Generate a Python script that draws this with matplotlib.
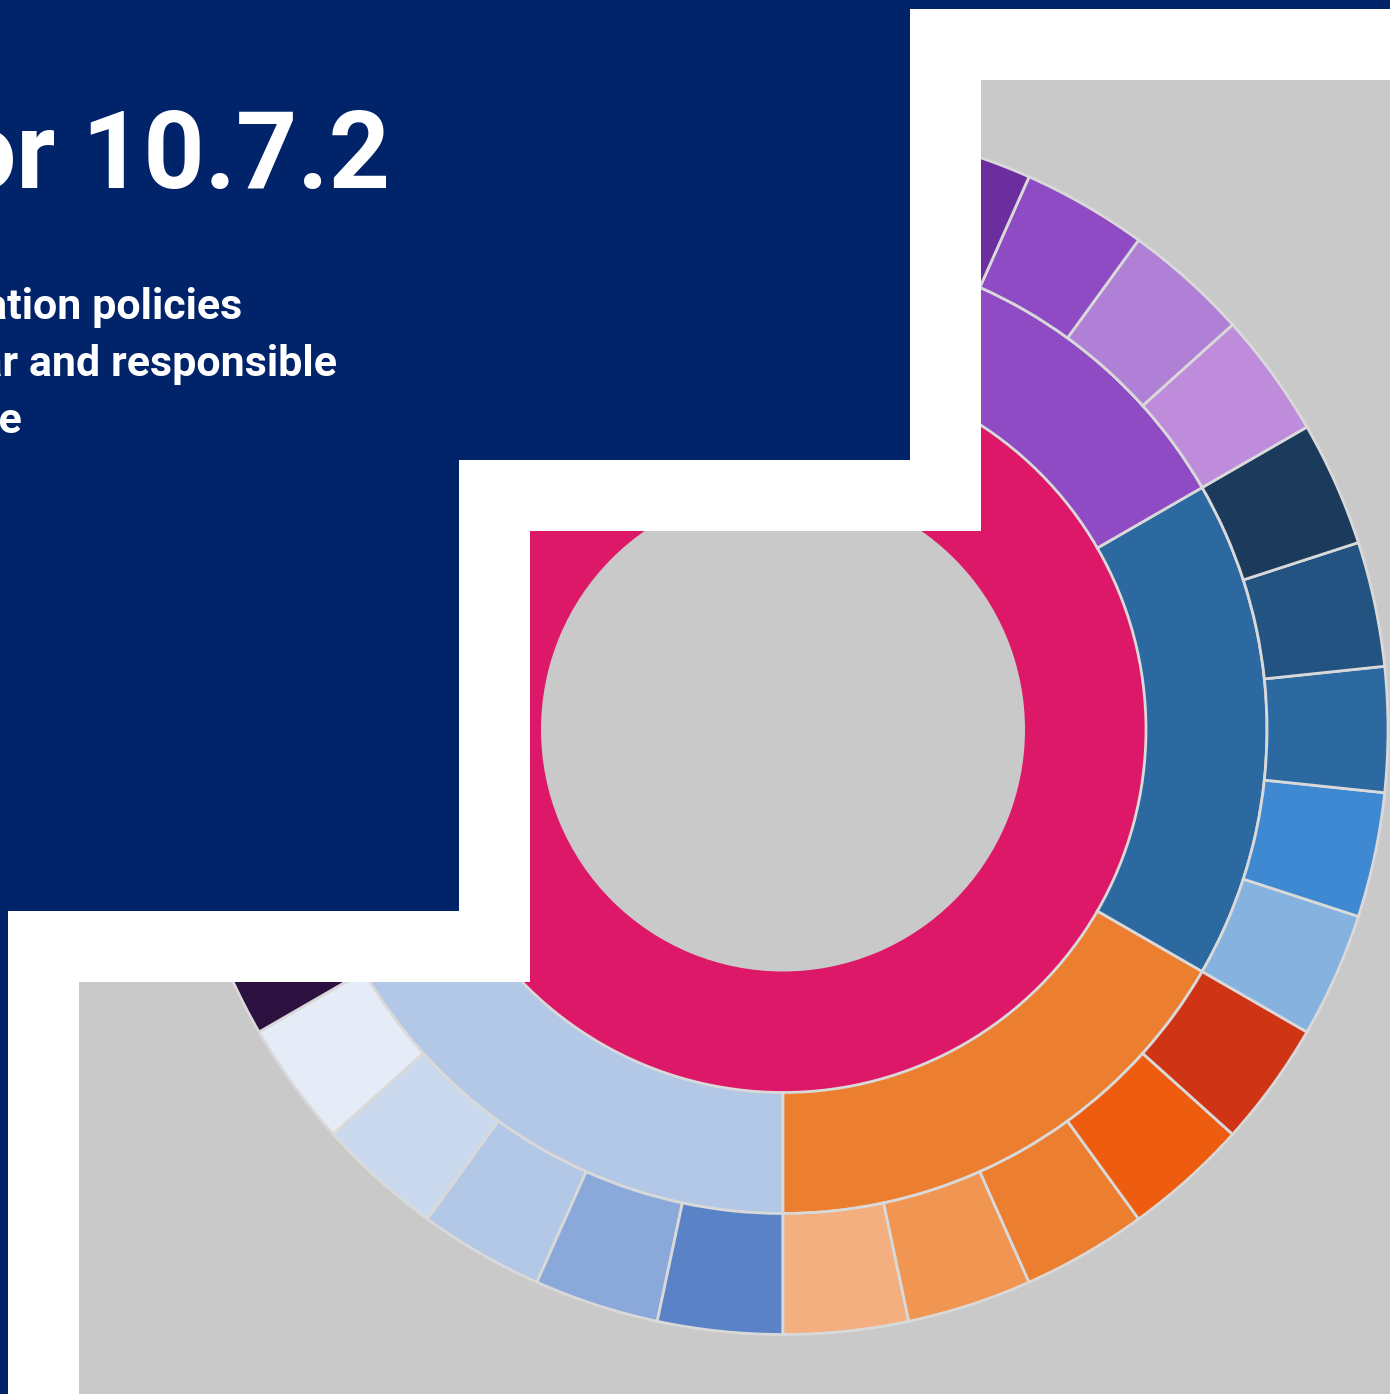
import numpy as np
from matplotlib import pyplot as plt
from matplotlib.patches import Polygon

W, H = 1390, 1394            ### canvas size in pixels (dpi 100)

####################################
### Data: six groups, five parts each, listed counter-clockwise from 210 deg
####################################

lightblue_values = [1, 1, 1, 1, 1]
orange_values = [1, 1, 1, 1, 1]
blue_values = [1, 1, 1, 1, 1]
purple_values = [1, 1, 1, 1, 1]
teal_values = [1, 1, 1, 1, 1]
plum_values = [1, 1, 1, 1, 1]

group_colors = ["#B3C7E6", "#EC7E30", "#2C69A1", "#8E4BC3", "#2FA58E", "#6E4A85"]

lightblue_colors = ["#E5ECF7", "#CAD9EE", "#B3C7E6", "#8AA9DA", "#5A83C7"]
orange_colors = ["#F3AF80", "#F09652", "#EC7E30", "#EE5C10", "#CF3515"]
blue_colors = ["#85B2DE", "#3F88D2", "#2C69A1", "#235481", "#1B3A5C"]
purple_colors = ["#BE8CDB", "#B07FD6", "#8E4BC3", "#6C2E9E", "#4F1F78"]
teal_colors = ["#A8DCD1", "#6CC3B2", "#2FA58E", "#1E7F6C", "#115446"]
plum_colors = ["#C9B3D6", "#9C7BB0", "#6E4A85", "#4A2A5E", "#2C1040"]

core_values = [1]
core_color = "#DE1868"

title = "SDG Indicator 10.7.2"
subtitle_lines = ["Number of countries with migration policies",
                  "to facilitate orderly, safe, regular and responsible",
                  "migration and mobility of people"]

NAVY = "#002369"
GREY = "#C9C9C9"
EDGE = "#D9D9D9"

####################################
### Build the ring lists
####################################

child_groups = [lightblue_values, orange_values, blue_values,
                purple_values, teal_values, plum_values]
color_groups = [lightblue_colors, orange_colors, blue_colors,
                purple_colors, teal_colors, plum_colors]

child_values = [v for grp in child_groups for v in grp]
child_colors = [c for grp in color_groups for c in grp]
group_values = [sum(grp) for grp in child_groups]

######################
### Figure and one axes in pixel units (y up)
#####################

fig = plt.figure(figsize=(W / 100, H / 100), dpi=100, facecolor=GREY)
ax = fig.add_axes([0, 0, 1, 1])
ax.set_facecolor(GREY)


def flip(pts):
    return [(x, H - y) for x, y in pts]


######################
### Sunburst rings
#####################

center = (783, H - 729.5)
ring = 121

core, _ = ax.pie(core_values, colors=[core_color], radius=363, center=center,
                 startangle=210, wedgeprops=dict(width=ring, linewidth=0))
mid, _ = ax.pie(group_values, colors=group_colors, radius=484, center=center,
                startangle=210,
                wedgeprops=dict(width=ring, edgecolor=EDGE, linewidth=2.0))
outer, _ = ax.pie(child_values, colors=child_colors, radius=605, center=center,
                  startangle=210,
                  wedgeprops=dict(width=ring, edgecolor=EDGE, linewidth=2.0))

for w in core + mid + outer:
    w.set_zorder(2)

######################
### Stepped white band and navy block laid over the rings
#####################

white_band = Polygon(flip([(910, 9), (W, 9), (W, 80), (981, 80), (981, 531),
                           (530, 531), (530, 982), (79, 982), (79, H), (8, H),
                           (8, 911), (459, 911), (459, 460), (910, 460)]),
                     closed=True, facecolor="white", edgecolor="none", zorder=3)
navy_block = Polygon(flip([(0, 0), (W, 0), (W, 9), (910, 9), (910, 460),
                           (459, 460), (459, 911), (8, 911), (8, H), (0, H)]),
                     closed=True, facecolor=NAVY, edgecolor="none", zorder=4)
ax.add_patch(white_band)
ax.add_patch(navy_block)

ax.set_xlim(0, W)
ax.set_ylim(0, H)
ax.axis("off")

######################
### Heading text
#####################

ax.text(390, H - 188, title, ha="right", va="baseline", color="white",
        fontsize=77, fontweight="bold", family="Roboto", zorder=5)

sub_right = [242, 337, 22]
sub_base = [319, 376, 433]
for line, xr, yb in zip(subtitle_lines, sub_right, sub_base):
    ax.text(xr, H - yb, line, ha="right", va="baseline", color="white",
            fontsize=31, fontweight="bold", family="Roboto", zorder=5)

fig.savefig("out.png", dpi=100, facecolor=GREY)
